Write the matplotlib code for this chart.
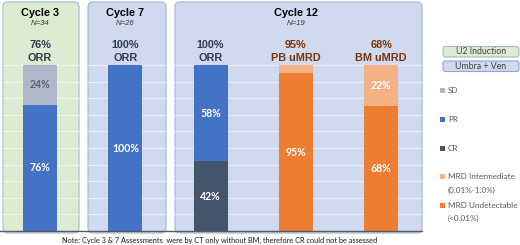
import matplotlib
matplotlib.use("Agg")
import matplotlib.pyplot as plt
from matplotlib.patches import FancyBboxPatch, Rectangle
import numpy as np

# ---------------- data ----------------
categories = ["Cycle 3 ORR", "Cycle 7 ORR", "Cycle 12 ORR", "Cycle 12 PB uMRD", "Cycle 12 BM uMRD"]
cr = [0, 0, 42, 0, 0]
pr = [76, 100, 58, 0, 0]
sd = [24, 0, 0, 0, 0]
mrd_und = [0, 0, 0, 95, 75]
mrd_int = [0, 0, 0, 5, 25]
cr_lbl = ["", "", "42%", "", ""]
pr_lbl = ["76%", "100%", "58%", "", ""]
sd_lbl = ["24%", "", "", "", ""]
und_lbl = ["", "", "", "95%", "68%"]
int_lbl = ["", "", "", "", "22%"]
head_pct = ["76%", "100%", "100%", "95%", "68%"]
head_name = ["ORR", "ORR", "ORR", "PB uMRD", "BM uMRD"]
cycles = ["Cycle 3", "Cycle 7", "Cycle 12"]
cycle_n = ["N=34", "N=26", "N=19"]
cycle_x = [0, 1, 3]
legend_labels = ["SD", "PR", "CR", "MRD Intermediate\n(0.01%-1.0%)", "MRD Undetectable\n(<0.01%)"]
note = "Note: Cycle 3 & 7 Assessments  were by CT only without BM, therefore CR could not be assessed"

C_SD = "#adb9ca"
C_PR = "#4472c4"
C_CR = "#44546a"
C_INT = "#f4b183"
C_UND = "#ed7d31"

W, H = 520, 245
fig = plt.figure(figsize=(W / 100, H / 100), dpi=100)
fig.patch.set_facecolor("white")

# background axes in pixel coordinates
bg = fig.add_axes([0, 0, 1, 1], zorder=0)
bg.set_xlim(0, W)
bg.set_ylim(H, 0)
bg.axis("off")

def panel(x0, x1, y0, y1, fc, ec):
    p = FancyBboxPatch((x0, y0), x1 - x0, y1 - y0,
                       boxstyle="round,pad=0,rounding_size=5",
                       fc=fc, ec=ec, lw=0.9)
    bg.add_patch(p)

panel(3, 79, 2, 233, "#deebd3", "#a9bfd6")
panel(88, 166, 2, 233, "#cfdaee", "#a9bbd8")
panel(175, 422, 2, 233, "#cfdaee", "#a9bbd8")

# main axes
ax = fig.add_axes([0 / W, (H - 231) / H, 422 / W, (231 - 65) / H], zorder=1)
ax.patch.set_alpha(0)
x = np.arange(len(categories))
ax.set_xlim(-0.47, 4.48)
ax.set_ylim(0, 100)
for s in ["top", "right", "left"]:
    ax.spines[s].set_visible(False)
ax.spines["bottom"].set_color("#595959")
ax.spines["bottom"].set_linewidth(1.0)
ax.set_xticks([])
ax.set_yticks(np.arange(10, 101, 10))
ax.tick_params(left=False, labelleft=False)
ax.grid(axis="y", color="white", lw=0.8, alpha=0.5)
ax.set_axisbelow(True)

bw = 0.4
bottom = np.zeros(len(categories))
series = [(cr, C_CR, cr_lbl, "white"), (pr, C_PR, pr_lbl, "white"),
          (sd, C_SD, sd_lbl, "#5b6478"), (mrd_und, C_UND, und_lbl, "white"),
          (mrd_int, C_INT, int_lbl, "white")]
for vals, col, lbls, tc in series:
    vals = np.array(vals, dtype=float)
    ax.bar(x, vals, bw, bottom=bottom, color=col, zorder=2)
    for i, (v, l) in enumerate(zip(vals, lbls)):
        if l:
            ax.text(x[i], bottom[i] + v / 2, l, ha="center", va="center",
                    color=tc, fontsize=7.6, fontweight="bold", family="Lato", zorder=3)
    bottom += vals

# headers
for i in range(len(categories)):
    col = "#2e3a50" if head_name[i] == "ORR" else "#7a3309"
    ax.text(x[i], 112, head_pct[i], ha="center", va="center", color=col,
            fontsize=7.8, fontweight="bold", family="Liberation Sans", clip_on=False)
    ax.text(x[i], 104.3, head_name[i], ha="center", va="center", color=col,
            fontsize=7.8, fontweight="bold", family="Liberation Sans", clip_on=False)

for cx, t, n in zip(cycle_x, cycles, cycle_n):
    ax.text(cx, 131.5, t, ha="center", va="center", color="black",
            fontsize=7.8, fontweight="bold", family="Liberation Sans", clip_on=False)
    ax.text(cx, 124.8, n, ha="center", va="center", color="#333333",
            fontsize=5.6, style="italic", family="Liberation Sans", clip_on=False)

# right side boxes
def tag(y0, y1, fc, ec, text):
    p = FancyBboxPatch((443, y0), 76, y1 - y0,
                       boxstyle="round,pad=0,rounding_size=2.5", fc=fc, ec=ec, lw=0.8)
    bg.add_patch(p)
    bg.text(481, (y0 + y1) / 2, text, ha="center", va="center", color="#404040",
            fontsize=6.3, family="Lato")

tag(46.5, 57, "#deebd3", "#9fb7cf", "U2 Induction")
tag(61, 71.5, "#cfdaee", "#8ea7cc", "Umbra + Ven")

# legend
leg_colors = [C_SD, C_PR, C_CR, C_INT, C_UND]
leg_y = [90, 119, 148, 176.5, 205]
for c, yy, lab in zip(leg_colors, leg_y, legend_labels):
    bg.add_patch(Rectangle((440, yy - 2.5), 5, 5, fc=c, ec="none"))
    lines = lab.split("\n")
    bg.text(448, yy, lines[0], ha="left", va="center", color="#595959",
            fontsize=5.9, family="Lato")
    if len(lines) > 1:
        bg.text(448, yy + 13.5, lines[1], ha="left", va="center", color="#595959",
                fontsize=5.9, family="Lato")

bg.text(219.5, 240, note, ha="center", va="center", color="#1a1a1a",
        fontsize=5.3, family="Lato")

fig.savefig("out.png", dpi=100, facecolor="white")
